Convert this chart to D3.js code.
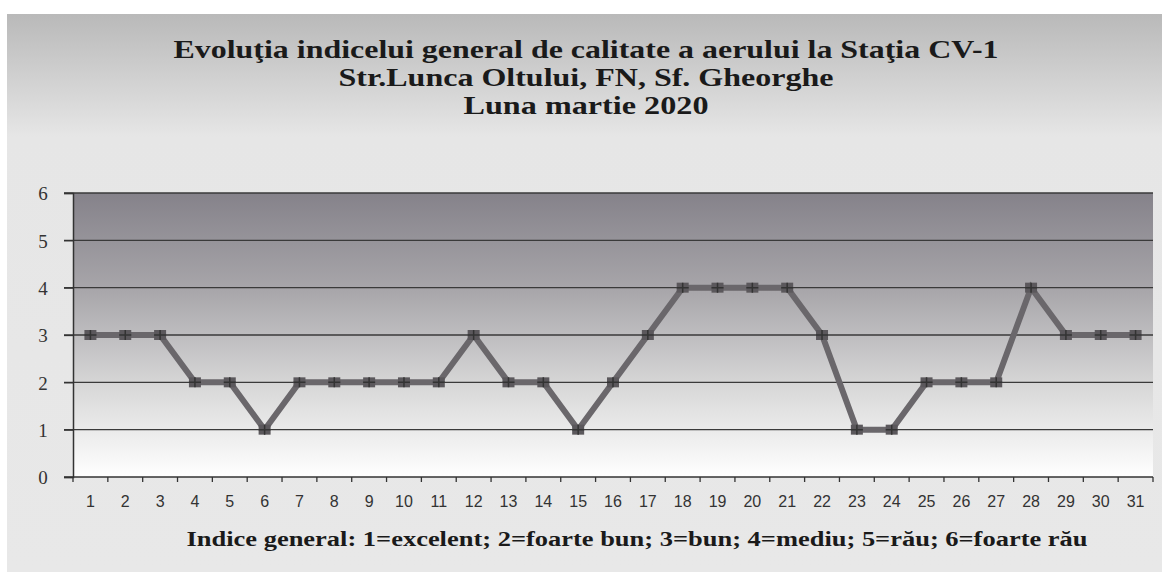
<!DOCTYPE html>
<html><head><meta charset="utf-8">
<script src="https://cdn.jsdelivr.net/npm/d3@7"></script>
<style>body{margin:0;background:#fff}svg{display:block}</style>
</head><body>
<svg id="c" width="1172" height="578"></svg>
<script>
const days = d3.range(1, 32).map(String);
const indexValues = [3,3,3,2,2,1,2,2,2,2,2,3,2,2,1,2,3,4,4,4,4,3,1,1,2,2,2,4,3,3,3];
const yTicks = [0,1,2,3,4,5,6];
const titleLines = ["Evoluţia indicelui general de calitate a aerului la Staţia CV-1","Str.Lunca Oltului, FN, Sf. Gheorghe","Luna martie 2020"];
const titleWidths = [825, 495, 245];
const footnote = "Indice general: 1=excelent; 2=foarte bun; 3=bun; 4=mediu; 5=rău; 6=foarte rău";

const svg = d3.select("#c");
const defs = svg.append("defs");
const g1 = defs.append("linearGradient").attr("id","outer").attr("x1",0).attr("y1",0).attr("x2",0).attr("y2",1);
g1.append("stop").attr("offset","0%").attr("stop-color","#b9b9b9");
g1.append("stop").attr("offset","22%").attr("stop-color","#e6e6e6");
g1.append("stop").attr("offset","100%").attr("stop-color","#e8e8e8");
const g2 = defs.append("linearGradient").attr("id","plot").attr("x1",0).attr("y1",0).attr("x2",0).attr("y2",1);
g2.append("stop").attr("offset","0%").attr("stop-color","#85828a");
g2.append("stop").attr("offset","35%").attr("stop-color","#a9a7ab");
g2.append("stop").attr("offset","70%").attr("stop-color","#dadada");
g2.append("stop").attr("offset","100%").attr("stop-color","#ffffff");

svg.append("rect").attr("x",7).attr("y",14).attr("width",1155).attr("height",558).attr("fill","url(#outer)");

const m = {l:73, r:1153, t:193, b:477};
const x = d3.scaleBand().domain(days).range([m.l, m.r]).padding(0);
const y = d3.scaleLinear().domain([0,6]).range([m.b, m.t]);

svg.append("rect").attr("x",m.l).attr("y",m.t).attr("width",m.r-m.l).attr("height",m.b-m.t).attr("fill","url(#plot)");

// title
svg.append("g").selectAll("text").data(titleLines).join("text")
  .attr("x",586).attr("y",(d,i)=>58+i*28).attr("text-anchor","middle")
  .attr("font-family","'Liberation Serif','Times New Roman',serif").attr("font-weight","bold")
  .attr("font-size",25).attr("fill","#1a1a1a")
  .attr("textLength",(d,i)=>titleWidths[i]).attr("lengthAdjust","spacingAndGlyphs")
  .text(d=>d);

// gridlines
svg.append("g").selectAll("line").data(yTicks.filter(d=>d>0)).join("line")
  .attr("x1",m.l-9).attr("x2",m.r).attr("y1",d=>y(d)).attr("y2",d=>y(d))
  .attr("stroke","#3a3a3a").attr("stroke-width",1.3);

// y axis
const ya = svg.append("g").attr("transform",`translate(${m.l},0)`)
  .call(d3.axisLeft(y).tickValues(yTicks).tickFormat(d3.format("d")).tickSize(9).tickPadding(21));
ya.select(".domain").attr("stroke","#333").attr("stroke-width",1.5);
ya.selectAll(".tick line").attr("stroke","#333").attr("stroke-width",1.3);
ya.selectAll("text").attr("font-family","'Liberation Serif',serif").attr("font-size",19).attr("fill","#333").attr("text-anchor","middle").attr("dy","0.36em");

// x axis
const xa = svg.append("g").attr("transform",`translate(0,${m.b})`)
  .call(d3.axisBottom(x).tickSize(0).tickPadding(19));
xa.select(".domain").remove();
xa.selectAll("text").attr("font-family","'Liberation Sans',Arial,sans-serif").attr("font-size",16).attr("fill","#333");
svg.append("line").attr("x1",m.l-9).attr("x2",m.r).attr("y1",m.b).attr("y2",m.b).attr("stroke","#333").attr("stroke-width",1.6);
const bounds = days.map(d=>x(d)).concat([x(days[days.length-1])+x.bandwidth()]);
svg.append("g").selectAll("line").data(bounds).join("line")
  .attr("x1",d=>d).attr("x2",d=>d).attr("y1",m.b).attr("y2",m.b+5)
  .attr("stroke","#333").attr("stroke-width",1.3);

// series
const cx = (d,i)=>x(days[i])+x.bandwidth()/2;
const line = d3.line().x(cx).y(d=>y(d));
svg.append("path").datum(indexValues).attr("d",line).attr("fill","none")
  .attr("stroke","#6a676b").attr("stroke-width",6).attr("stroke-linejoin","miter");
const mk = svg.append("g").selectAll("g").data(indexValues).join("g")
  .attr("transform",(d,i)=>`translate(${cx(d,i)},${y(d)})`);
mk.append("rect").attr("x",-6).attr("y",-5).attr("width",12).attr("height",10).attr("fill","#5b585c");
mk.append("path").attr("d","M-6,0H6M0,-5V5").attr("stroke","#333").attr("stroke-width",1.5);

// footnote
svg.append("text").attr("x",637).attr("y",546).attr("text-anchor","middle")
  .attr("font-family","'Liberation Serif','Times New Roman',serif").attr("font-weight","bold")
  .attr("font-size",20).attr("fill","#1a1a1a")
  .attr("textLength",901).attr("lengthAdjust","spacingAndGlyphs")
  .text(footnote);
</script>
</body></html>
